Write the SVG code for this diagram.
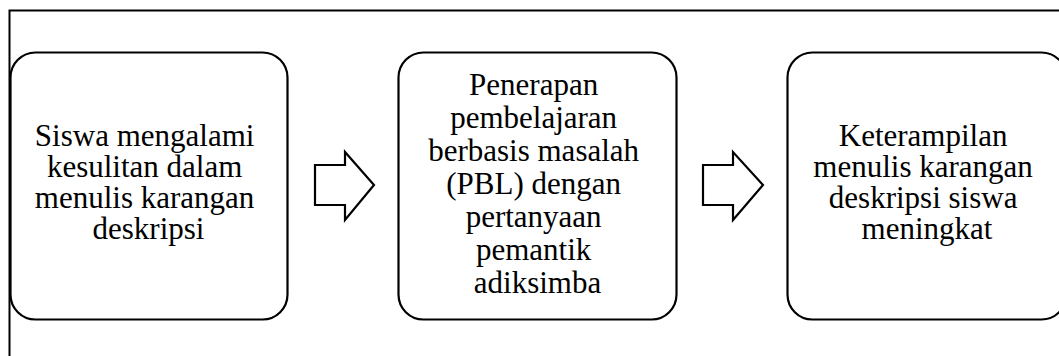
<svg xmlns="http://www.w3.org/2000/svg" width="1059" height="356" viewBox="0 0 1059 356">
  <style>
    .frame { fill: none; stroke: #000; stroke-width: 2; }
    .box { fill: #fff; stroke: #000; stroke-width: 2.2; }
    .arrow { fill: #fff; stroke: #000; stroke-width: 2.2; stroke-linejoin: miter; }
    .label { font-size: 31px; fill: #000; text-anchor: middle; }
  </style>
  <rect width="1059" height="356" fill="#fff"/>
  <!-- outer frame, continues past the right and bottom edges -->
  <path class="frame" d="M9.5,370 V10.5 H1070"/>

  <g id="node-problem">
    <rect class="box" x="10.5" y="52.5" width="277" height="267" rx="25" ry="25"/>
    <text class="label" font-family="'Liberation Serif', 'Times New Roman', Times, serif" x="148.5">
      <tspan x="148.5" y="146">Siswa mengalami</tspan>
      <tspan x="148.5" y="177">kesulitan dalam</tspan>
      <tspan x="148.5" y="208">menulis karangan</tspan>
      <tspan x="148.5" y="239">deskripsi</tspan>
    </text>
  </g>

  <g id="node-action">
    <rect class="box" x="398.5" y="52.5" width="278" height="267" rx="25" ry="25"/>
    <text class="label" font-family="'Liberation Serif', 'Times New Roman', Times, serif" x="537.5">
      <tspan x="537.5" y="95">Penerapan</tspan>
      <tspan x="537.5" y="128">pembelajaran</tspan>
      <tspan x="537.5" y="161">berbasis masalah</tspan>
      <tspan x="537.5" y="194">(PBL) dengan</tspan>
      <tspan x="537.5" y="227">pertanyaan</tspan>
      <tspan x="537.5" y="260">pemantik</tspan>
      <tspan x="537.5" y="293">adiksimba</tspan>
    </text>
  </g>

  <g id="node-result">
    <rect class="box" x="787.5" y="52.5" width="279" height="267" rx="25" ry="25"/>
    <text class="label" font-family="'Liberation Serif', 'Times New Roman', Times, serif" x="927">
      <tspan x="927" y="146">Keterampilan</tspan>
      <tspan x="927" y="177">menulis karangan</tspan>
      <tspan x="927" y="208">deskripsi siswa</tspan>
      <tspan x="927" y="239">meningkat</tspan>
    </text>
  </g>

  <g id="connectors">
    <path class="arrow" d="M315,165 H345 V152 L374,185 L345,220 V205 H315 Z"/>
    <path class="arrow" d="M703,165 H733 V152 L763,185 L733,220 V205 H703 Z"/>
  </g>
</svg>
